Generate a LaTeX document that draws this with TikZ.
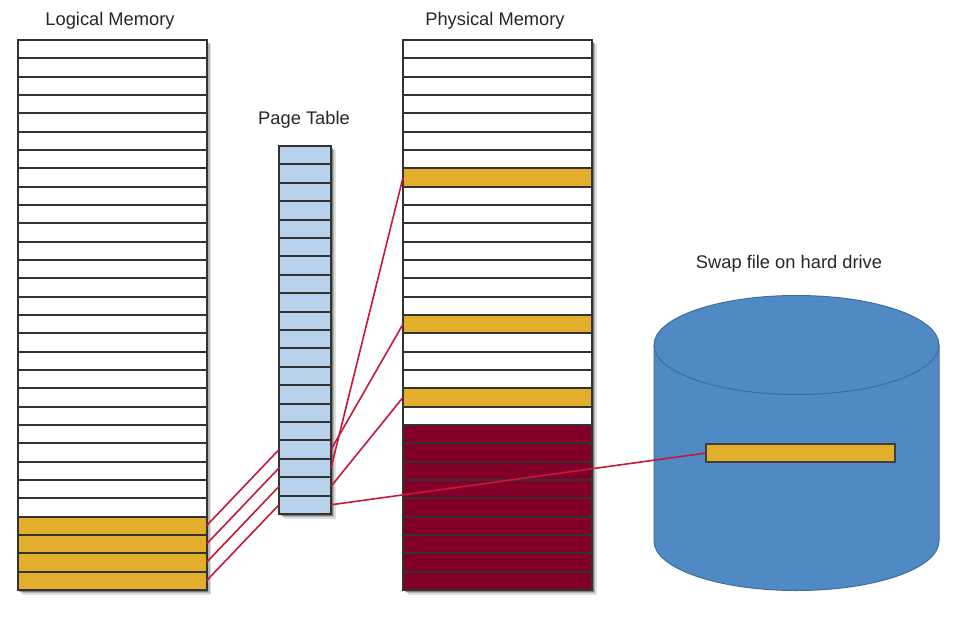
\documentclass[tikz,border=0pt]{standalone}
\usepackage{fontspec}
\setmainfont{Liberation Sans}
\usepackage{xcolor}
\usetikzlibrary{shadows}
\definecolor{slotyellow}{HTML}{E3AE2B}
\definecolor{slotred}{HTML}{820028}
\definecolor{slotblue}{HTML}{B7D2EA}
\definecolor{diskblue}{HTML}{4F8AC4}
\definecolor{diskline}{HTML}{3F6E9E}
\definecolor{linkred}{HTML}{C8183A}
\begin{document}
\begin{tikzpicture}[x=1pt,y=-1pt]
\tikzstyle{slot} = [rectangle, minimum width=189pt, minimum height=18.33pt, inner sep=0pt, outer sep=0pt, fill=white]
\tikzstyle{entry} = [slot, minimum width=52pt, minimum height=18.4pt, fill=slotblue]
\tikzstyle{rule} = [black!80, line width=2pt]
\tikzstyle{column} = [rectangle, minimum width=189pt, inner sep=0pt, outer sep=0pt, fill=white, drop shadow={shadow xshift=4.5pt, shadow yshift=-4.5pt, fill=black, opacity=0.12}, drop shadow={shadow xshift=3pt, shadow yshift=-3pt, fill=black, opacity=0.2}, drop shadow={shadow xshift=1.8pt, shadow yshift=-1.8pt, fill=black, opacity=0.3}]
\tikzstyle{disk} = [draw=diskline, line width=1pt, fill=diskblue]
\tikzstyle{title} = [text=black!85, font=\fontsize{18.3}{20}\selectfont]
\tikzstyle{link} = [linkred, line width=1.6pt]
\useasboundingbox (0,0) rectangle (953,623);

% Titles
\node (logicaltitle) [title] at (110,21) {Logical Memory};
\node (tabletitle) [title] at (304,120) {Page Table};
\node (physicaltitle) [title] at (495,21) {Physical Memory};
\node (swaptitle) [title] at (789,264) {Swap file on hard drive};

% Logical memory
\node (logicalback) [column, minimum height=550pt] at (112,315) {};
\foreach \i in {0,...,25}
  \node (logical\i) [slot] at (112,{40+18.33*(\i+0.5)}) {};
\foreach \i in {26,...,29}
  \node (logical\i) [slot, fill=slotyellow] at (112,{40+18.33*(\i+0.5)}) {};
\foreach \i in {0,...,28}
  \draw [rule] (logical\i.south west) -- (logical\i.south east);
\draw [rule] (logicalback.north west) rectangle (logicalback.south east);

% Page table
\node (tableback) [column, minimum width=52pt, minimum height=368pt] at (305,330) {};
\foreach \i in {0,...,19}
  \node (table\i) [entry] at (305,{146+18.4*(\i+0.5)}) {};
\foreach \i in {0,...,18}
  \draw [rule] (table\i.south west) -- (table\i.south east);
\draw [rule] (tableback.north west) rectangle (tableback.south east);

% Physical memory
\node (physicalback) [column, minimum height=550pt] at (497.5,315) {};
\foreach \i in {0,...,6,8,9,...,14,16,17,18,20}
  \node (physical\i) [slot] at (497.5,{40+18.33*(\i+0.5)}) {};
\foreach \i in {7,15,19}
  \node (physical\i) [slot, fill=slotyellow] at (497.5,{40+18.33*(\i+0.5)}) {};
\foreach \i in {21,...,29}
  \node (physical\i) [slot, fill=slotred] at (497.5,{40+18.33*(\i+0.5)}) {};
\foreach \i in {0,...,28}
  \draw [rule] (physical\i.south west) -- (physical\i.south east);
\draw [rule] (physicalback.north west) rectangle (physicalback.south east);

% Swap file
\draw [disk] (654,345) arc [start angle=180, end angle=360, x radius=142.5, y radius=49.5] -- (939,541) arc [start angle=0, end angle=180, x radius=142.5, y radius=49.5] -- cycle;
\draw [disk, fill=none] (654,345) arc [start angle=180, end angle=0, x radius=142.5, y radius=49.5];
\node (swap) [slot, fill=slotyellow, draw=black!75, line width=1.5pt] at (800.5,453) {};

% Arrows
\foreach \i [evaluate=\i as \j using int(\i-10)] in {26,...,29}
  \draw [link] (logical\i.east) -- (table\j.west);
\draw [link] (table16.east) -- (physical15.west);
\draw [link] (table17.east) -- (physical7.west);
\draw [link] (table18.east) -- (physical19.west);
\draw [link] (table19.east) -- (swap.west);

\end{tikzpicture}
\end{document}
